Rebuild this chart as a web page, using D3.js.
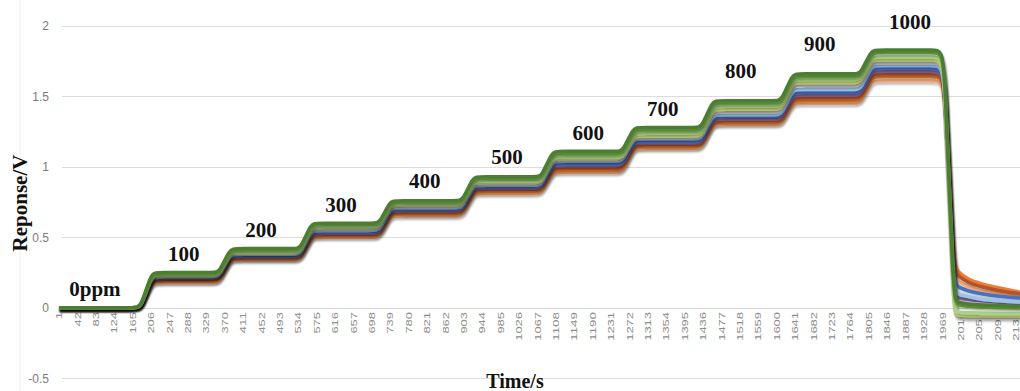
<!DOCTYPE html>
<html>
<head>
<meta charset="utf-8">
<script src="https://cdn.jsdelivr.net/npm/d3@7"></script>
<style>
  body { margin: 0; background: #fff; }
  svg { display: block; }
</style>
</head>
<body>
<svg id="chart" width="1020" height="391"></svg>
<script>
// Concentration annotations (ppm) and where they sit (sample index, volts)
const concLabels = ["0ppm", "100", "200", "300", "400", "500", "600", "700", "800", "900", "1000"];
const labelTime  = [81, 279, 451, 629, 816, 999, 1180, 1346, 1520, 1696, 1897];
const labelValue = [0.087, 0.33, 0.50, 0.68, 0.85, 1.02, 1.19, 1.36, 1.63, 1.82, 1.98];

// Gas injection steps: start and end of each rise (sample index)
const riseStart = [183, 358, 539, 715, 900, 1076, 1257, 1433, 1611, 1787];
const riseEnd   = [207, 382, 563, 739, 924, 1100, 1281, 1457, 1635, 1811];
const dropStart = 1974;
// length of the flat run kept next to each bend
const bendRun = 10;

// Recovery after the gas is removed: sample index of each reading
const recoveryTime = [1993, 2003, 2025, 2055, 2095, 2142];

// Category labels on the time axis
const xTickLabels = [1, 42, 83, 124, 165, 206, 247, 288, 329, 370, 411, 452, 493, 534, 575, 616, 657, 698,
  739, 780, 821, 862, 903, 944, 985, 1026, 1067, 1108, 1149, 1190, 1231, 1272, 1313, 1354, 1395, 1436,
  1477, 1518, 1559, 1600, 1641, 1682, 1723, 1764, 1805, 1846, 1887, 1928, 1969, 2010, 2051, 2092, 2133];
const yTickValues = [-0.5, 0, 0.5, 1, 1.5, 2];

// Sensor series, drawn bottom-first; plateau level at each concentration (V)
const seriesNames = ["S11", "S10", "S9", "S8", "S7", "S6", "S5", "S4", "S3", "S2", "S1"];
const seriesColors = ["#f4b183", "#ed7d31", "#b4532a", "#8064a2", "#4472c4", "#9dc3e6",
                      "#b7b7b7", "#c9dc6c", "#a9d18e", "#70ad47", "#4e7d32"];
const levelsS11 = [0, 0.180, 0.340, 0.500, 0.650, 0.810, 0.960, 1.130, 1.300, 1.450, 1.610];
const levelsS10 = [0, 0.185, 0.345, 0.510, 0.665, 0.825, 0.975, 1.140, 1.310, 1.470, 1.640];
const levelsS9  = [0, 0.200, 0.355, 0.520, 0.680, 0.840, 0.990, 1.160, 1.330, 1.490, 1.660];
const levelsS8  = [0, 0.210, 0.365, 0.530, 0.690, 0.850, 1.010, 1.170, 1.340, 1.510, 1.680];
const levelsS7  = [0, 0.215, 0.370, 0.540, 0.700, 0.860, 1.020, 1.180, 1.360, 1.530, 1.700];
const levelsS6  = [0, 0.220, 0.380, 0.550, 0.710, 0.870, 1.040, 1.200, 1.370, 1.550, 1.720];
const levelsS5  = [0, 0.225, 0.385, 0.560, 0.720, 0.880, 1.050, 1.210, 1.390, 1.580, 1.740];
const levelsS4  = [0, 0.230, 0.390, 0.570, 0.730, 0.890, 1.060, 1.220, 1.410, 1.600, 1.760];
const levelsS3  = [0, 0.235, 0.400, 0.580, 0.740, 0.900, 1.070, 1.240, 1.430, 1.620, 1.780];
const levelsS2  = [0, 0.240, 0.410, 0.590, 0.750, 0.920, 1.090, 1.260, 1.450, 1.640, 1.810];
const levelsS1  = [0, 0.250, 0.420, 0.600, 0.760, 0.930, 1.110, 1.280, 1.470, 1.660, 1.830];

// Readings during recovery (V)
const recoveryS11 = [0.22, 0.19, 0.15, 0.12, 0.10, 0.08];
const recoveryS10 = [0.30, 0.26, 0.20, 0.17, 0.14, 0.11];
const recoveryS9  = [0.26, 0.23, 0.18, 0.15, 0.12, 0.10];
const recoveryS8  = [0.08, 0.07, 0.06, 0.05, 0.04, 0.03];
const recoveryS7  = [0.17, 0.15, 0.12, 0.10, 0.08, 0.07];
const recoveryS6  = [0.12, 0.10, 0.08, 0.06, 0.05, 0.04];
const recoveryS5  = [-0.06, -0.065, -0.07, -0.07, -0.07, -0.07];
const recoveryS4  = [-0.04, -0.05, -0.055, -0.055, -0.055, -0.055];
const recoveryS3  = [-0.02, -0.03, -0.035, -0.04, -0.04, -0.04];
const recoveryS2  = [0.03, 0.02, 0.01, 0.005, 0.0, 0.0];
const recoveryS1  = [0.05, 0.04, 0.025, 0.02, 0.015, 0.01];

const seriesLevels = [levelsS11, levelsS10, levelsS9, levelsS8, levelsS7, levelsS6,
                      levelsS5, levelsS4, levelsS3, levelsS2, levelsS1];
const seriesRecovery = [recoveryS11, recoveryS10, recoveryS9, recoveryS8, recoveryS7, recoveryS6,
                        recoveryS5, recoveryS4, recoveryS3, recoveryS2, recoveryS1];

const svg = d3.select("#chart");
const W = 1020, H = 391;

const x = d3.scaleLinear().domain([1, 2142]).range([59, 1020]);
const y = d3.scaleLinear().domain([-0.5, 2]).range([378.3, 26]);

// soft drop shadow under the lines
const defs = svg.append("defs");
const f = defs.append("filter").attr("id", "shadow")
  .attr("x", "-5%").attr("y", "-10%").attr("width", "110%").attr("height", "130%");
f.append("feDropShadow").attr("dx", 1).attr("dy", 2).attr("stdDeviation", 1.2)
  .attr("flood-color", "#000").attr("flood-opacity", 0.28);

// faint chart-area edge
svg.append("line").attr("x1", 20).attr("x2", 20).attr("y1", 0).attr("y2", H)
  .attr("stroke", "#eeeeee").attr("stroke-width", 1);

// horizontal gridlines
svg.append("g").selectAll("line").data(yTickValues).join("line")
  .attr("x1", 62).attr("x2", W)
  .attr("y1", d => Math.round(y(d)) + 0.5).attr("y2", d => Math.round(y(d)) + 0.5)
  .attr("stroke", "#dcdcdc").attr("stroke-width", 1);

// y tick labels
svg.append("g").selectAll("text").data(yTickValues).join("text")
  .attr("x", 49).attr("y", d => y(d)).attr("dy", "0.35em")
  .attr("text-anchor", "end")
  .attr("font-family", "Liberation Sans, Arial, sans-serif").attr("font-size", 12)
  .attr("fill", "#7a7a7a")
  .text(d => d);

// x tick labels (rotated category labels)
svg.append("g").selectAll("text").data(xTickLabels).join("text")
  .attr("transform", d => `translate(${x(d)},312) rotate(-90)`)
  .attr("text-anchor", "end").attr("dy", "0.35em")
  .attr("font-family", "Liberation Sans, Arial, sans-serif").attr("font-size", 9)
  .attr("fill", "#8c8c8c")
  .attr("textLength", d => String(d).length * 7.2)
  .attr("lengthAdjust", "spacingAndGlyphs")
  .text(d => d);

// build each series from its step levels and recovery readings;
// a short flat run on either side of every bend keeps the plateaus level
function seriesPoints(levels, recovery) {
  const pts = [[1, levels[0]]];
  for (let k = 0; k < riseStart.length; k++) {
    pts.push([riseStart[k] - bendRun, levels[k]]);
    pts.push([riseStart[k], levels[k]]);
    pts.push([riseEnd[k], levels[k + 1]]);
    pts.push([riseEnd[k] + bendRun, levels[k + 1]]);
  }
  const top = levels[levels.length - 1];
  pts.push([dropStart - bendRun, top]);
  pts.push([dropStart, top]);
  recoveryTime.forEach((t, j) => pts.push([t, recovery[j]]));
  return pts;
}

const line = d3.line()
  .x(d => x(d[0])).y(d => y(d[1]))
  .curve(d3.curveBasis);

const gLines = svg.append("g");
seriesNames.forEach((name, i) => {
  gLines.append("path")
    .datum(seriesPoints(seriesLevels[i], seriesRecovery[i]))
    .attr("d", line)
    .attr("fill", "none")
    .attr("stroke", seriesColors[i])
    .attr("stroke-width", 3.6)
    .attr("stroke-linejoin", "round")
    .attr("filter", "url(#shadow)");
});

// concentration annotations
svg.append("g").selectAll("text").data(concLabels).join("text")
  .attr("x", (d, i) => x(labelTime[i]))
  .attr("y", (d, i) => y(labelValue[i]))
  .attr("text-anchor", "middle")
  .attr("font-family", "Liberation Serif, Times New Roman, serif")
  .attr("font-weight", "bold").attr("font-size", 21)
  .attr("fill", "#111")
  .text(d => d);

// axis titles
svg.append("text")
  .attr("transform", "translate(20,203) rotate(-90)")
  .attr("text-anchor", "middle").attr("dy", "0.35em")
  .attr("font-family", "Liberation Serif, Times New Roman, serif")
  .attr("font-weight", "bold").attr("font-size", 21)
  .attr("fill", "#111")
  .text("Reponse/V");

svg.append("text")
  .attr("x", 515).attr("y", 388)
  .attr("text-anchor", "middle")
  .attr("font-family", "Liberation Serif, Times New Roman, serif")
  .attr("font-weight", "bold").attr("font-size", 20)
  .attr("fill", "#111")
  .text("Time/s");
</script>
</body>
</html>
